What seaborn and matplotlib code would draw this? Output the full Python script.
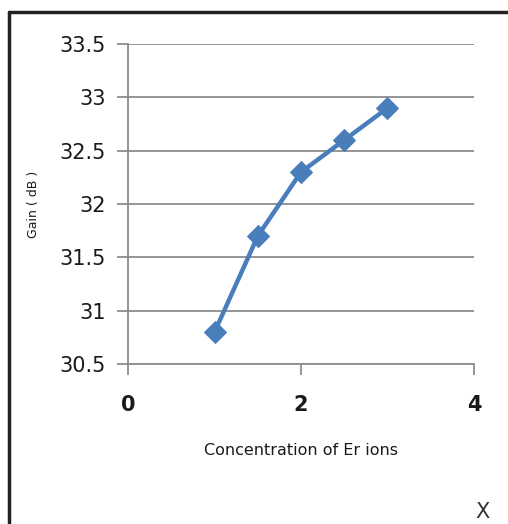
import matplotlib
matplotlib.use("Agg")
import matplotlib.pyplot as plt
from matplotlib.lines import Line2D
import seaborn as sns
import pandas as pd

# Gain measured against erbium ion concentration
concentration = [1.0, 1.5, 2.0, 2.5, 3.0]
gain_db = [30.8, 31.7, 32.3, 32.6, 32.9]
y_ticks = [30.5, 31, 31.5, 32, 32.5, 33, 33.5]
y_tick_labels = ["30.5", "31", "31.5", "32", "32.5", "33", "33.5"]
x_ticks = [0, 2, 4]
x_tick_labels = ["0", "2", "4"]

df = pd.DataFrame({"conc": concentration, "gain": gain_db})

sns.set_theme(style="white")
plt.rcParams["font.family"] = ["DejaVu Sans"]

fig = plt.figure(figsize=(5.08, 5.24), dpi=100)
ax = fig.add_axes([0.252, 0.305, 0.681, 0.611])

line_color = "#4a7ebb"
sns.lineplot(data=df, x="conc", y="gain", ax=ax, color=line_color,
             linewidth=3.2, marker="D", markersize=11,
             markeredgecolor=line_color, markerfacecolor=line_color)

ax.set_xlim(0, 4)
ax.set_ylim(30.5, 33.5)
ax.set_yticks(y_ticks)
ax.set_yticklabels(y_tick_labels)
ax.set_xticks(x_ticks)
ax.set_xticklabels(x_tick_labels, fontweight="bold")

grid_color = "#8c8c8c"
ax.yaxis.grid(True, color=grid_color, linewidth=1.3)
ax.xaxis.grid(False)
for side in ["top", "right"]:
    ax.spines[side].set_visible(False)
for side in ["left", "bottom"]:
    ax.spines[side].set_color(grid_color)
    ax.spines[side].set_linewidth(1.3)

ax.tick_params(axis="y", which="major", direction="out", length=8,
               width=1.3, color=grid_color, labelsize=15, pad=8,
               labelcolor="#1a1a1a", left=True)
ax.tick_params(axis="x", which="major", direction="out", length=8,
               width=1.3, color=grid_color, labelsize=15, pad=14,
               labelcolor="#1a1a1a", bottom=True)

ax.set_xlabel("Concentration of Er ions", fontsize=11.5, color="#1a1a1a")
ax.set_ylabel("Gain ( dB )", fontsize=9, color="#1a1a1a")
ax.xaxis.set_label_coords(0.5, -0.245)
ax.yaxis.set_label_coords(-0.255, 0.5)

# Outer frame (left and top edges)
frame_kw = dict(color="#222222", linewidth=2.5, transform=fig.transFigure)
fig.add_artist(Line2D([9 / 508, 9 / 508], [0, 1 - 12 / 524], **frame_kw))
fig.add_artist(Line2D([9 / 508, 1], [1 - 12 / 524, 1 - 12 / 524], **frame_kw))

fig.text(483 / 508, 1 - 512 / 524, "X", fontsize=15, color="#333333",
         ha="center", va="center")

fig.savefig("out.png", dpi=100)
